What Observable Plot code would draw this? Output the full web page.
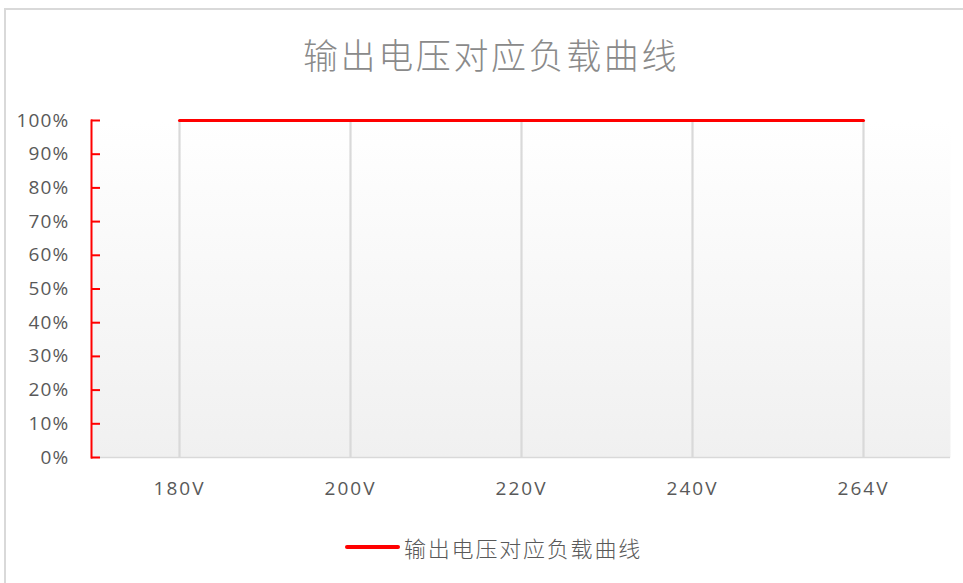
<!DOCTYPE html>
<html>
<head>
<meta charset="utf-8">
<script src="https://cdn.jsdelivr.net/npm/d3@7"></script>
<script src="https://cdn.jsdelivr.net/npm/@observablehq/plot@0.6"></script>
<style>
  html, body { margin: 0; padding: 0; background: #fff; }
  #wrap { position: relative; width: 963px; height: 583px; overflow: hidden; background: #fff; }
  #border { position: absolute; left: 4px; top: 8px; width: 1000px; height: 600px; border-left: 2px solid #d9d9d9; border-top: 2px solid #d9d9d9; }
  #chart { position: absolute; left: 0; top: 0; }
  #title { position: absolute; left: 0; width: 982px; top: 36px; text-align: center; font-family: "Noto Sans CJK SC", sans-serif; font-weight: 300; font-size: 35px; line-height: 35px; letter-spacing: 2.6px; color: #8a8a8a; }
  #legend { position: absolute; left: 345px; top: 533px; height: 28px; display: flex; align-items: center; }
  #legend .sw { width: 55px; height: 4px; border-radius: 2px; background: #ff0000; margin-right: 4px; }
  #legend .lb { font-family: "Noto Sans CJK SC", sans-serif; font-weight: 300; font-size: 22px; letter-spacing: 1.8px; color: #595959; line-height: 28px; }
</style>
</head>
<body>
<div id="wrap">
  <div id="border"></div>
  <div id="chart"></div>
  <div id="title">输出电压对应负载曲线</div>
  <div id="legend"><div class="sw"></div><div class="lb">输出电压对应负载曲线</div></div>
</div>
<script>
const categories = ["180V", "200V", "220V", "240V", "264V"];
const loadValues = [1, 1, 1, 1, 1];
const yTicks = [0, 0.1, 0.2, 0.3, 0.4, 0.5, 0.6, 0.7, 0.8, 0.9, 1];
const seriesName = "输出电压对应负载曲线";

const data = categories.map((c, i) => ({ voltage: c, load: loadValues[i] }));

const plot = Plot.plot({
  width: 963,
  height: 583,
  marginLeft: 91,
  marginRight: 13,
  marginTop: 120,
  marginBottom: 126,
  style: { fontFamily: "'Open Sans', sans-serif", background: "transparent", overflow: "visible" },
  x: { type: "point", domain: categories, padding: 0.5 },
  y: { domain: [0, 1] },
  marks: [
    Plot.frame({ fill: "url(#bgGrad)", stroke: null }),
    Plot.ruleX(categories, { y1: 0, y2: 1, stroke: "#d9d9d9", strokeWidth: 2.2 }),
    Plot.ruleY([0], { stroke: "#d9d9d9", strokeWidth: 1.6 }),
    Plot.axisX({ tickSize: 0, tickPadding: 24, fontSize: 19, fill: "#595959", label: null, className: "xax" }),
    Plot.axisY({ ticks: yTicks, tickSize: 0, tickPadding: 22, fontSize: 19, fill: "#595959", label: null, className: "yax",
      tickFormat: d => Math.round(d * 100) + "%" }),
    Plot.tickY(yTicks, { y: d => d, stroke: "#ff0000", strokeWidth: 2, insetRight: 850 }),
    Plot.frame({ anchor: "left", stroke: "#ff0000", strokeWidth: 2, strokeOpacity: 1 }),
    Plot.line(data, { x: "voltage", y: "load", stroke: "#ff0000", strokeWidth: 3 })
  ]
});

const defs = d3.create("svg:defs");
const g = defs.append("linearGradient").attr("id", "bgGrad").attr("x1", 0).attr("y1", 0).attr("x2", 0).attr("y2", 1);
g.append("stop").attr("offset", "0%").attr("stop-color", "#ffffff");
g.append("stop").attr("offset", "100%").attr("stop-color", "#f0f0f0");
plot.insertBefore(defs.node(), plot.firstChild);
plot.querySelectorAll(".xax text").forEach(t => { t.style.letterSpacing = "2px"; });
plot.querySelectorAll(".yax text").forEach(t => { t.style.letterSpacing = "1.2px"; });

document.getElementById("chart").appendChild(plot);
</script>
</body>
</html>
